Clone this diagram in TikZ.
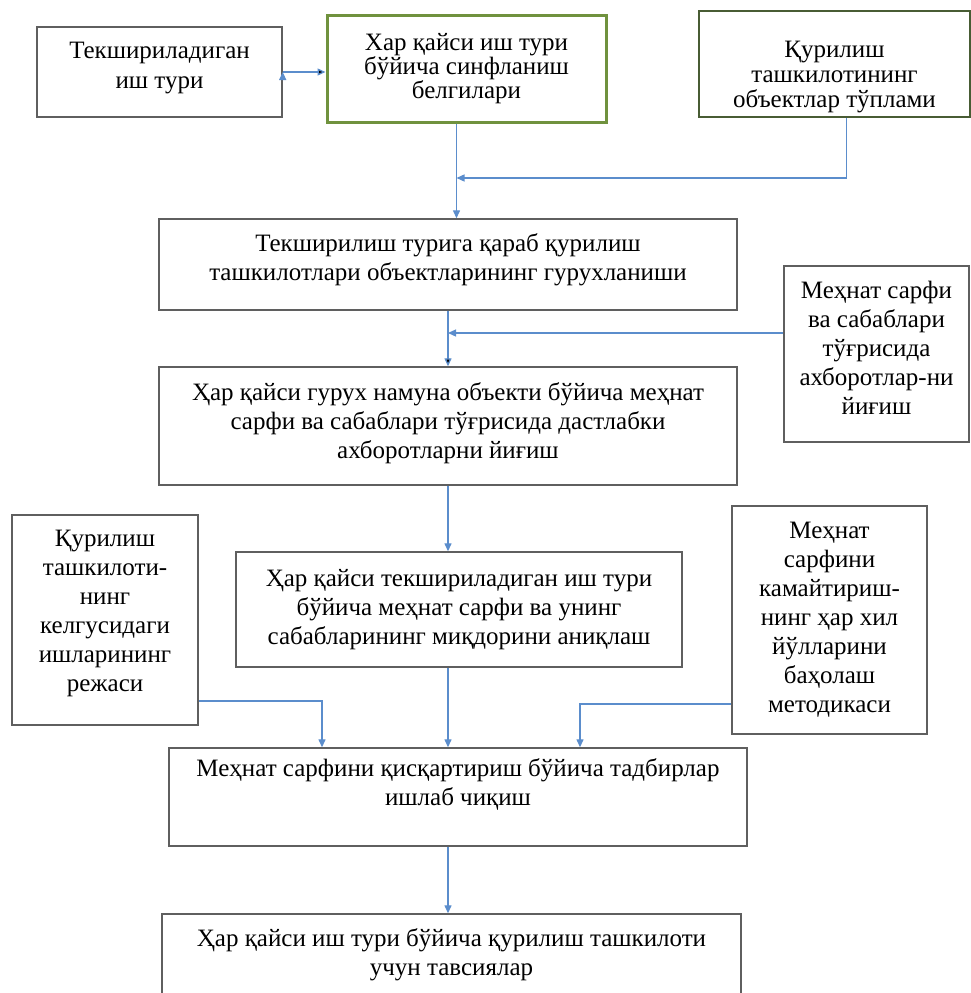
\documentclass[tikz,border=0pt]{standalone}
\usepackage{fontspec}
\setmainfont{Liberation Serif}
\usetikzlibrary{arrows.meta,calc}

\definecolor{linkblue}{RGB}{91,141,204}
\definecolor{boxgray}{RGB}{95,95,95}
\definecolor{leafgreen}{RGB}{112,146,62}
\definecolor{darkleaf}{RGB}{72,92,52}

\begin{document}
\begin{tikzpicture}[x=1pt,y=-1pt,
	box/.style={draw=boxgray,line width=1.4pt,align=center,inner sep=0pt,
		font=\fontsize{25}{29}\selectfont},
	lines/.style={font=\fontsize{25}{#1}\selectfont},
	arr/.style={draw=linkblue,line width=1.3pt,-{Triangle[length=8pt,width=7pt]}}]
	
	\useasboundingbox (0,0) rectangle (971,993);
	
	\node[box,lines=30,minimum width=245pt,minimum height=90pt] (tur) at (159.5,72) {Текшириладиган\\иш тури\\[-16pt]~};
	\node[box,lines=24,draw=leafgreen,line width=3pt,minimum width=279pt,minimum height=107pt] (belgi) at (466.5,68.5) {Хар қайси иш тури\\бўйича синфланиш\\белгилари};
	\node[box,draw=darkleaf,line width=1.6pt,minimum width=271pt,minimum height=106pt] (obj) at (834.5,64) {};
	\node[align=center,inner sep=0pt,lines=25] (objtext) at (834.5,77) {Қурилиш\\ташкилотининг\\объектлар тўплами};
	\node[box,minimum width=578pt,minimum height=91pt] (guruh) at (448,264.5) {Текширилиш турига қараб қурилиш\\ташкилотлари объектларининг гурухланиши\\[-15pt]~};
	\node[box,minimum width=578pt,minimum height=118pt] (info) at (448,426) {Ҳар қайси гурух намуна объекти бўйича меҳнат\\сарфи ва сабаблари тўғрисида дастлабки\\ахборотларни йиғиш\\[-19pt]~};
	\node[box,minimum width=185pt,minimum height=176pt] (sabab) at (876.5,354) {Меҳнат сарфи\\ва сабаблари\\тўғрисида\\ахборотлар-ни\\йиғиш\\[-17pt]~};
	\node[box,minimum width=186pt,minimum height=210pt] (reja) at (105,620) {Қурилиш\\ташкилоти-\\нинг\\келгусидаги\\ишларининг\\режаси\\[-10pt]~};
	\node[box,minimum width=446pt,minimum height=115pt] (miqdor) at (459,609.5) {Ҳар қайси текшириладиган иш тури\\бўйича меҳнат сарфи ва унинг\\сабабларининг миқдорини аниқлаш};
	\node[box,minimum width=195pt,minimum height=228pt] (usul) at (829.5,620) {Меҳнат\\сарфини\\камайтириш-\\нинг ҳар хил\\йўлларини\\баҳолаш\\методикаси};
	\node[box,minimum width=578pt,minimum height=98pt] (tadbir) at (458,797) {Меҳнат сарфини қисқартириш бўйича тадбирлар\\ишлаб чиқиш\\~};
	\node[box,minimum width=579pt,minimum height=96pt] (tavsiya) at (451.5,962) {Ҳар қайси иш тури бўйича қурилиш ташкилоти\\учун тавсиялар\\[-10pt]~};
	
	\coordinate (jtop) at ([xshift=-10pt]belgi.south |- 0,178);
	\coordinate (jmid) at (guruh.south |- 0,333);
	
	\path[arr] (tur.east) edge (tur.east -| belgi.west);
	\draw[arr] ([xshift=-10pt]belgi.south) -- ([xshift=-10pt]belgi.south |- guruh.north);
	\draw[arr] ([xshift=12pt]obj.south) |- (jtop);
	\path[arr] (guruh) edge (info);
	\draw[arr] (sabab.west |- jmid) -- (jmid);
	\draw[arr] (info.south) -- (info.south |- miqdor.north);
	\draw[arr] (info.south |- miqdor.south) -- (info.south |- tadbir.north);
	\draw[arr] ([yshift=-81pt]reja.east) -| ([xshift=-136pt]tadbir.north);
	\draw[arr] ([yshift=-84pt]usul.west) -| ([xshift=122pt]tadbir.north);
	\draw[arr] (info.south |- tadbir.south) -- (info.south |- tavsiya.north);

\end{tikzpicture}
\end{document}
